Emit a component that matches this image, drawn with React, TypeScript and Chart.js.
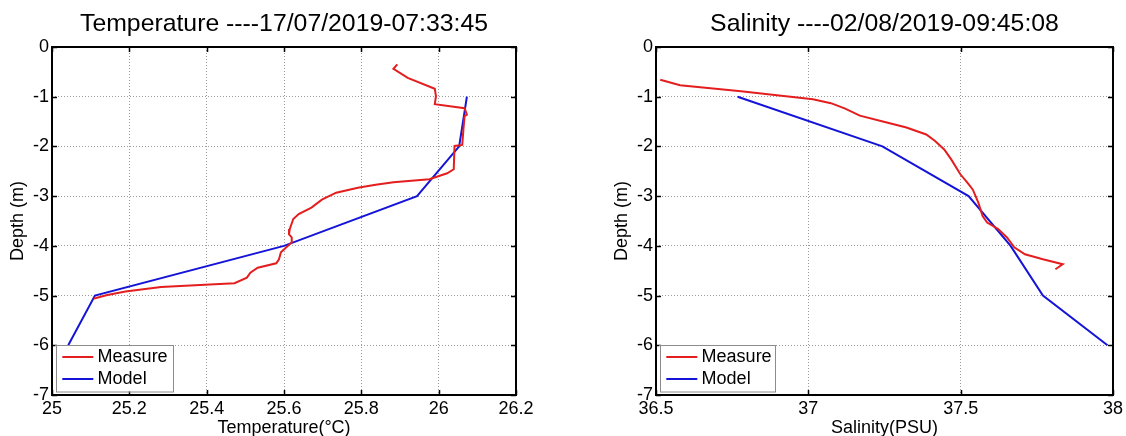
import { useEffect, useRef } from "react";
import { Chart, registerables } from "chart.js";

Chart.register(...registerables);

const FONT = "'Liberation Sans', Arial, Helvetica, sans-serif";
const RED = "#e41e1e";
const BLUE = "#1414d8";
const GRID = "#9a9a9a";

const tempTitle = "Temperature ----17/07/2019-07:33:45";
const salTitle = "Salinity ----02/08/2019-09:45:08";
const depthLabel = "Depth (m)";
const tempAxisLabel = "Temperature(°C)";
const salAxisLabel = "Salinity(PSU)";
const seriesNames = ["Measure", "Model"];

const depthTicks = [0, -1, -2, -3, -4, -5, -6, -7];
const tempTicks = [25, 25.2, 25.4, 25.6, 25.8, 26, 26.2];
const salTicks = [36.5, 37, 37.5, 38];

const tempMeasureValues = [
  25.893, 25.883, 25.92, 25.99, 25.993, 25.99, 26.067, 26.073, 26.067, 26.064,
  26.061, 26.041, 26.039, 26.022, 25.976, 25.883, 25.837, 25.791, 25.735, 25.698,
  25.671, 25.638, 25.624, 25.615, 25.613, 25.62, 25.62, 25.606, 25.592, 25.587,
  25.58, 25.532, 25.513, 25.504, 25.472, 25.421, 25.282, 25.19, 25.143, 25.114,
  25.108,
];
const tempMeasureDepths = [
  -0.35, -0.44, -0.62, -0.84, -0.99, -1.15, -1.23, -1.36, -1.39, -1.66,
  -1.97, -1.99, -2.46, -2.54, -2.66, -2.72, -2.77, -2.83, -2.93, -3.07,
  -3.23, -3.36, -3.46, -3.66, -3.77, -3.83, -3.93, -4.03, -4.13, -4.27,
  -4.35, -4.44, -4.54, -4.64, -4.75, -4.77, -4.83, -4.92, -4.99, -5.05,
  -5.06,
];
const modelDepths = [-1, -2, -3, -4, -5, -6];
const tempModelValues = [26.073, 26.053, 25.944, 25.6, 25.111, 25.042];

const salMeasureValues = [
  36.514, 36.579, 36.662, 36.779, 36.897, 37.015, 37.074, 37.121, 37.169, 37.251,
  37.322, 37.387, 37.416, 37.446, 37.469, 37.499, 37.522, 37.54, 37.558, 37.572,
  37.587, 37.623, 37.652, 37.676, 37.711, 37.77, 37.835, 37.811,
];
const salMeasureDepths = [
  -0.66, -0.77, -0.82, -0.89, -0.97, -1.05, -1.13, -1.24, -1.38, -1.51,
  -1.62, -1.76, -1.89, -2.06, -2.26, -2.56, -2.73, -2.87, -3.13, -3.4,
  -3.53, -3.66, -3.83, -4.03, -4.17, -4.27, -4.37, -4.47,
];
const salModelValues = [36.768, 37.243, 37.526, 37.664, 37.77, 37.982];

function fmt(v: number) {
  return String(Math.round(v * 100) / 100);
}

function makeFramePlugin(legendWidth: number) {
  return {
    id: "frameAndLegend",
    afterDatasetsDraw(chart: any) {
      const { ctx, chartArea: a, scales } = chart;
      ctx.save();
      ctx.strokeStyle = "#000";
      ctx.lineWidth = 1.5;
      ctx.beginPath();
      scales.x.ticks.forEach((t: any) => {
        const px = Math.round(scales.x.getPixelForValue(t.value)) + 0.5;
        ctx.moveTo(px, a.top);
        ctx.lineTo(px, a.top + 5);
        ctx.moveTo(px, a.bottom);
        ctx.lineTo(px, a.bottom - 5);
      });
      scales.y.ticks.forEach((t: any) => {
        const py = Math.round(scales.y.getPixelForValue(t.value)) + 0.5;
        ctx.moveTo(a.left, py);
        ctx.lineTo(a.left + 5, py);
        ctx.moveTo(a.right, py);
        ctx.lineTo(a.right - 5, py);
      });
      ctx.stroke();
      ctx.lineWidth = 2;
      ctx.strokeRect(a.left, a.top, a.right - a.left, a.bottom - a.top);

      // legend box
      const bx = a.left + 3.5;
      const by = a.bottom - 50;
      const bh = 46.5;
      ctx.fillStyle = "#fff";
      ctx.fillRect(bx, by, legendWidth, bh);
      ctx.strokeStyle = "#8c8c8c";
      ctx.lineWidth = 1;
      ctx.strokeRect(Math.round(bx) + 0.5, Math.round(by) + 0.5, legendWidth, bh);
      const colors = [RED, BLUE];
      const ys = [a.bottom - 38, a.bottom - 16];
      ctx.font = `18px ${FONT}`;
      ctx.textBaseline = "middle";
      ctx.textAlign = "left";
      seriesNames.forEach((name, i) => {
        ctx.strokeStyle = colors[i];
        ctx.lineWidth = 2;
        ctx.beginPath();
        ctx.moveTo(a.left + 10.3, ys[i]);
        ctx.lineTo(a.left + 41.3, ys[i]);
        ctx.stroke();
        ctx.fillStyle = "#000";
        ctx.fillText(name, a.left + 45.6, ys[i] + 0.5);
      });
      ctx.restore();
    },
  };
}

type PanelProps = {
  title: string;
  xLabel: string;
  xTicks: number[];
  measureX: number[];
  measureY: number[];
  modelX: number[];
  modelY: number[];
  yAxisWidth: number;
  padRight: number;
  yTitlePad: number;
  legendWidth: number;
  width: number;
};

function Panel(p: PanelProps) {
  const ref = useRef<HTMLCanvasElement | null>(null);
  useEffect(() => {
    if (!ref.current) return;
    const axisFont = { family: FONT, size: 18, weight: "normal" as const, lineHeight: 1.2 };
    const chart = new Chart(ref.current, {
      type: "scatter",
      data: {
        datasets: [
          {
            label: seriesNames[0],
            data: p.measureX.map((x, i) => ({ x, y: p.measureY[i] })),
            showLine: true,
            borderColor: RED,
            backgroundColor: RED,
            borderWidth: 2,
            pointRadius: 0,
            tension: 0,
          },
          {
            label: seriesNames[1],
            data: p.modelX.map((x, i) => ({ x, y: p.modelY[i] })),
            showLine: true,
            borderColor: BLUE,
            backgroundColor: BLUE,
            borderWidth: 2,
            pointRadius: 0,
            tension: 0,
          },
        ],
      },
      options: {
        responsive: false,
        animation: false,
        events: [],
        layout: { padding: { left: 0, right: p.padRight, top: 0, bottom: 0 } },
        plugins: {
          legend: { display: false },
          tooltip: { enabled: false },
          title: {
            display: true,
            fullSize: false,
            text: p.title,
            color: "#000",
            font: { family: FONT, size: 24.8, weight: "normal", lineHeight: 1.2 },
            padding: { top: 8.8, bottom: 8.44 },
          },
        },
        scales: {
          x: {
            type: "linear",
            position: "bottom",
            min: p.xTicks[0],
            max: p.xTicks[p.xTicks.length - 1],
            afterBuildTicks: (s: any) => {
              s.ticks = p.xTicks.map((v) => ({ value: v }));
            },
            afterFit: (s: any) => {
              s.height = 41;
            },
            grid: { color: GRID, lineWidth: 1, drawTicks: false, tickLength: 0 },
            border: { display: false, dash: [1, 2] },
            ticks: {
              color: "#000",
              font: axisFont,
              padding: 3,
              maxRotation: 0,
              autoSkip: false,
              callback: (v: any) => fmt(Number(v)),
            },
            title: {
              display: true,
              text: p.xLabel,
              color: "#000",
              font: axisFont,
              padding: { top: 0, bottom: -2.8 },
            },
          },
          y: {
            type: "linear",
            min: -7,
            max: 0,
            afterBuildTicks: (s: any) => {
              s.ticks = depthTicks.map((v) => ({ value: v }));
            },
            afterFit: (s: any) => {
              s.width = p.yAxisWidth;
            },
            grid: { color: GRID, lineWidth: 1, drawTicks: false, tickLength: 0 },
            border: { display: false, dash: [1, 2] },
            ticks: {
              color: "#000",
              font: axisFont,
              padding: 3,
              autoSkip: false,
              callback: (v: any) => fmt(Number(v)),
            },
            title: {
              display: true,
              text: depthLabel,
              color: "#000",
              font: axisFont,
              padding: { top: p.yTitlePad, bottom: 0 },
            },
          },
        },
      } as any,
      plugins: [makeFramePlugin(p.legendWidth)],
    });
    return () => chart.destroy();
  }, []);
  return (
    <canvas
      ref={ref}
      width={p.width}
      height={436}
      style={{ display: "block", width: p.width, height: 436 }}
    />
  );
}

export default function App() {
  return (
    <div
      style={{
        position: "absolute",
        left: 0,
        top: 0,
        width: 1126,
        height: 436,
        background: "#fff",
        display: "flex",
      }}
    >
      <Panel
        title={tempTitle}
        xLabel={tempAxisLabel}
        xTicks={tempTicks}
        measureX={tempMeasureValues}
        measureY={tempMeasureDepths}
        modelX={tempModelValues}
        modelY={modelDepths}
        yAxisWidth={52}
        padRight={44}
        yTitlePad={7.7}
        legendWidth={117}
        width={560}
      />
      <Panel
        title={salTitle}
        xLabel={salAxisLabel}
        xTicks={salTicks}
        measureX={salMeasureValues}
        measureY={salMeasureDepths}
        modelX={salModelValues}
        modelY={modelDepths}
        yAxisWidth={96}
        padRight={12}
        yTitlePad={51.7}
        legendWidth={115}
        width={566}
      />
    </div>
  );
}
